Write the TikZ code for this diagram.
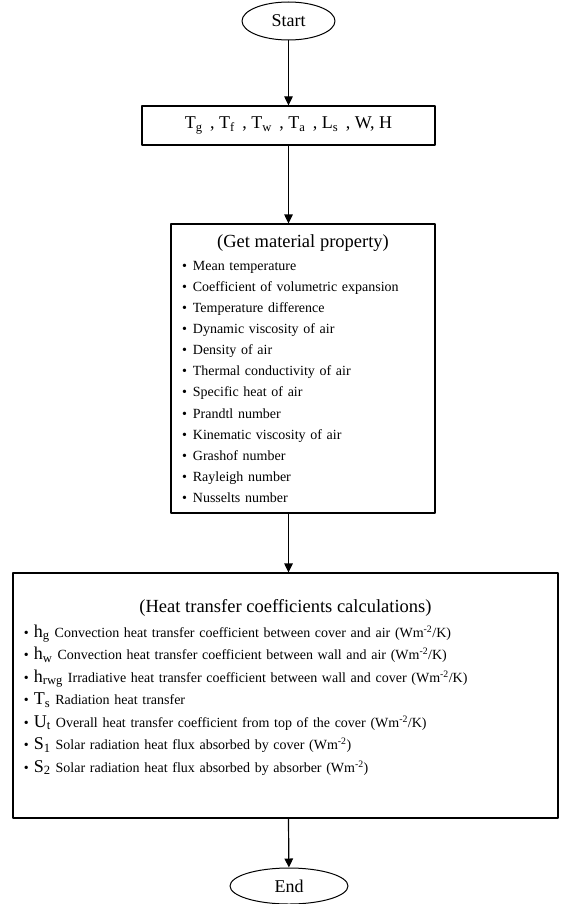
\documentclass[tikz,border=0pt]{standalone}
\usepackage{fontspec}
\setmainfont{Liberation Serif}
\usetikzlibrary{arrows.meta,shapes.geometric}
\tikzset{
  every picture/.style={line join=round,>={Triangle[length=9pt,width=8.5pt]}},
  term/.style={draw,ellipse,line width=1pt,inner sep=0pt,font=\fontsize{18}{21}\selectfont},
  stepbox/.style={draw,rectangle,line width=1.2pt,inner sep=0pt},
  flow/.style={->,line width=1.2pt},
}
\newcommand{\hdr}[1]{{\centering\fontsize{18.5}{22}\selectfont #1\par}\vspace{2pt}}
\newcommand{\pitem}[1]{\hspace*{9pt}\textbullet\hspace{6pt}#1\par}
\newcommand{\citem}[2]{\hspace*{9pt}\textbullet\hspace{5pt}{\fontsize{18}{22.5}\selectfont #1}\hspace{5pt}#2\par}
\begin{document}
\begin{tikzpicture}[x=1pt,y=-1pt]
\useasboundingbox (0,0) rectangle (561,904);
\node[term,minimum width=93,minimum height=38] (start) at (288.5,21) {Start};
\node[stepbox,minimum width=293,minimum height=39,font=\fontsize{18}{21}\selectfont] (params) at (288.5,125.5)
  {T\textsubscript{g}\, , T\textsubscript{f}\, , T\textsubscript{w}\, , T\textsubscript{a}\, , L\textsubscript{s}\, , W, H};
% material properties
\node[stepbox,minimum width=264,minimum height=289,text width=260,inner xsep=2pt,
  font=\fontsize{14}{21.1}\selectfont] (props) at (303,368.5) {%
  \hdr{(Get material property)}
  \pitem{Mean temperature}
  \pitem{Coefficient of volumetric expansion}
  \pitem{Temperature difference}
  \pitem{Dynamic viscosity of air}
  \pitem{Density of air}
  \pitem{Thermal conductivity of air}
  \pitem{Specific heat of air}
  \pitem{Prandtl number}
  \pitem{Kinematic viscosity of air}
  \pitem{Grashof number}
  \pitem{Rayleigh number}
  \pitem{Nusselts number}};
% heat transfer coefficients
\node[stepbox,minimum width=545,minimum height=245,text width=541,inner xsep=2pt,
  font=\fontsize{14}{22.5}\selectfont] (coeffs) at (285.5,695.5) {%
  \hdr{(Heat transfer coefficients calculations)}
  \citem{h\textsubscript{g}}{Convection heat transfer coefficient between cover and air (Wm\textsuperscript{-2}/K)}
  \citem{h\textsubscript{w}}{Convection heat transfer coefficient between wall and air (Wm\textsuperscript{-2}/K)}
  \citem{h\textsubscript{rwg}}{Irradiative heat transfer coefficient between wall and cover (Wm\textsuperscript{-2}/K)}
  \citem{T\textsubscript{s}}{Radiation heat transfer}
  \citem{U\textsubscript{t}}{Overall heat transfer coefficient from top of the cover (Wm\textsuperscript{-2}/K)}
  \citem{S\textsubscript{1}}{Solar radiation heat flux absorbed by cover (Wm\textsuperscript{-2})}
  \citem{S\textsubscript{2}}{Solar radiation heat flux absorbed by absorber (Wm\textsuperscript{-2})}
  \nointerlineskip\vbox to 16pt{}};
\node[term,minimum width=118,minimum height=36] (end) at (289,886) {End};
\draw[flow] (start) -- (params);
\draw[flow] (params) -- (params|-props.north);
\draw[flow] (params|-props.south) -- (params|-coeffs.north);
\draw[flow] (params|-coeffs.south) -- (end);
\end{tikzpicture}
\end{document}
